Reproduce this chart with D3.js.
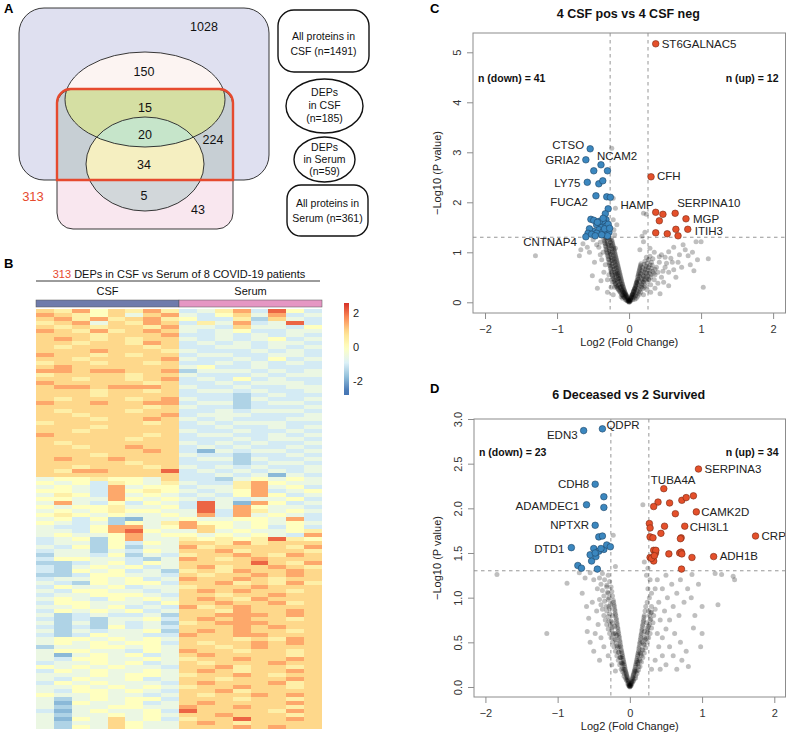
<!DOCTYPE html>
<html><head><meta charset="utf-8">
<script src="https://cdn.jsdelivr.net/npm/d3@7"></script>
<style>body{margin:0;background:#fff} text{font-family:"Liberation Sans",Arial,Helvetica,sans-serif}</style>
</head><body><svg id="chart" width="786" height="733"></svg>
<script>
// ---------------- DATA ----------------
const vennCounts = {onlyCSF:1028, csfDEP:150, csfDEPinOverlap:15, bothDEP:20, overlapOnly:224, serumDEPinOverlap:34, serumDEPonly:5, onlySerum:43, total313:313};
const vennLegend = [["All proteins in","CSF (n=1491)"],["DEPs","in CSF","(n=185)"],["DEPs","in Serum","(n=59)"],["All proteins in","Serum (n=361)"]];

// Heatmap: 16 samples (8 CSF, 8 Serum); each string is a row band, digits index heatLevels
const heatGroups = ["CSF","Serum"];
const heatLevels = [-2.3,-1.8,-1.4,-1.0,-0.55,0,0.45,0.95,1.45,2.1];
const heatRows = [
"76857686 34683953","87657478 43574834","78686786 53362743","67847687 36483493","76767768 44374435","87686787 43453344",
"77767778 33434343","78767677 43434534","77677687 34343443","76777767 33443434","77787776 43334343","87767677 34433443",
"77677778 43343534","67767767 33434343","78777777 45334333","88788778 24443434","67777677 43334344","77677678 34353433",
"87777767 33434443","78878887 43343344","77767767 34434334","77767777 33323433","76777678 43324334","87787788 34423443",
"77777767 43323334","76777677 33434443","77677778 34443334","77767787 43433344","67777767 34344433","77767777 33433434",
"77677777 43343343","87777767 34433434","77777677 33343443","76777777 43434334","77677877 34343343","77777787 31434434",
"77767777 43323343","78778777 34424334","77777677 33323443","77677767 43434334","76887779 34343434","77777777 33434143",
"45565547 33245454","54536546 43368544","45438455 34468453","55438565 43458345","46538454 34358534","55448545 43434453",
"48435354 39418534","54556445 39485443","45456554 49386454","56545445 48384543","45352144 54455483","54342546 85545454",
"43358845 87545353","44358954 47454456","45445845 54545438","34525844 65656965",
"34425354 77686777","43525244 86777768","34424354 77867776","24435243 67787687","35544324 87678777","22345354 77779768",
"32454534 78677876","32545342 67687787","22355443 76778787","34454534 87787677","43254553 77867686","35445344 67778777",
"43554434 78787767","34455543 77677877","45435454 78768777","35544435 77877867","44545343 86787777","35454534 77687787",
"42343342 77888787","32324453 78787767","42424342 67888777","32325343 77787877","42434452 78787767","32354433 87788777",
"45545454 77767687","45454553 76778787","24455454 77678777","45544354 87767767","41454534 78777767","43554454 67787787",
"34454534 76777877","54545443 77867767","35454454 78767787","44454554 67787677","43544534 77677787","35454443 78777867",
"44545454 67787767","43554543 77867777","54454434 76778787","42454553 77767767","41544534 78777787","42445544 87787767",
"31454453 97777687","42445454 77877767","41547453 67797787","42447544 78767777","42547544 77787877"
];
const heatLegendTicks = [2,0,-2];

// Volcano C: 4 CSF pos vs 4 CSF neg
const cTicksX = [-2,-1,0,1,2];
const cTicksY = [0,1,2,3,4,5];
const cDown = [[-0.54,3.07,"CTSO"],[-0.6,2.85,"GRIA2"],[-0.39,2.75,"NCAM2"],[-0.49,2.63],[-0.3,2.63],[-0.58,2.4,"LY75"],[-0.42,2.37],[-0.365,2.43],
[-0.46,2.13,"FUCA2"],[-0.31,2.11],[-0.26,2.1],[-0.29,1.87],[-0.33,1.77],[-0.53,1.66],[-0.49,1.64],[-0.32,1.65],[-0.45,1.55],[-0.4,1.58],[-0.35,1.6],
[-0.38,1.5],[-0.32,1.52],[-0.42,1.45],[-0.36,1.42],[-0.3,1.45],[-0.28,1.4],[-0.33,1.35],[-0.5,1.42],[-0.55,1.47],[-0.57,1.38],[-0.6,1.31,"CNTNAP4"],
[-0.45,1.38],[-0.3,1.33],[-0.38,1.35],[-0.41,1.62],[-0.29,1.56],[-0.34,1.47],[-0.44,1.6],[-0.52,1.36],[-0.27,1.48],[-0.36,1.68],[-0.47,1.33]];
const cUp = [[0.37,5.17,"ST6GALNAC5"],[0.305,2.51,"CFH"],[0.37,1.8,"HAMP"],[0.47,1.76],[0.64,1.78,"SERPINA10"],[0.42,1.63],[0.79,1.67,"MGP"],
[0.37,1.39],[0.53,1.37],[0.65,1.46],[0.815,1.46,"ITIH3"],[0.68,1.33]];
const cGrey = [[0,0.02],[0.01,0.04],[-0.01,0.05],[0.02,0.07],[-0.02,0.08],[0.03,0.1],[-0.03,0.11],[0.04,0.13],[-0.04,0.14],[0.05,0.16],[-0.05,0.17],[0.06,0.2],[-0.06,0.21],[0.07,0.24],[-0.07,0.25],[0.08,0.28],[-0.08,0.3],[0.09,0.33],[-0.09,0.35],[0.1,0.38],[-0.1,0.4],[0.11,0.43],[-0.11,0.46],[0.12,0.5],[-0.12,0.52],[0.13,0.56],[-0.13,0.58],[0.14,0.62],[-0.14,0.64],[0.15,0.68],[-0.15,0.7],[0.16,0.74],[-0.16,0.76],[-0.17,0.82],[-0.18,0.88],[-0.19,0.94],[-0.2,1.0],[-0.21,1.06],[-0.22,1.12],[-0.23,1.18],[-0.24,1.24],[-0.25,1.28],
[-0.04,0.06],[-0.06,0.09],[-0.08,0.12],[-0.05,0.12],[-0.1,0.15],[-0.07,0.18],[-0.12,0.2],[-0.09,0.22],[-0.14,0.24],[-0.1,0.27],[-0.13,0.3],[-0.16,0.28],[-0.11,0.32],[-0.15,0.34],[-0.18,0.33],[-0.12,0.37],[-0.16,0.4],[-0.19,0.38],[-0.13,0.42],[-0.17,0.45],[-0.2,0.44],[-0.14,0.47],[-0.18,0.5],[-0.22,0.48],[-0.15,0.53],[-0.19,0.55],[-0.23,0.54],[-0.16,0.58],[-0.2,0.6],[-0.24,0.6],[-0.17,0.63],[-0.21,0.66],[-0.25,0.65],[-0.18,0.69],[-0.22,0.71],[-0.26,0.72],[-0.19,0.75],[-0.23,0.77],[-0.27,0.78],[-0.2,0.81],[-0.24,0.83],[-0.28,0.85],[-0.21,0.87],[-0.25,0.9],[-0.29,0.91],[-0.22,0.93],[-0.26,0.96],[-0.3,0.98],[-0.23,1.0],[-0.27,1.02],[-0.31,1.04],[-0.24,1.07],[-0.28,1.09],[-0.32,1.1],[-0.25,1.13],[-0.29,1.15],[-0.33,1.17],[-0.26,1.2],[-0.3,1.22],[-0.34,1.23],[-0.27,1.25],[-0.31,1.27],[-0.35,1.26],[-0.29,1.29],[-0.33,1.29],
[-0.03,0.03],[-0.05,0.05],[-0.07,0.1],[-0.09,0.14],[-0.11,0.18],[-0.13,0.22],[-0.15,0.26],[-0.17,0.31],[-0.19,0.36],[-0.21,0.41],[-0.22,0.46],[-0.23,0.51],[-0.24,0.56],[-0.25,0.62],[-0.26,0.68],[-0.27,0.74],[-0.28,0.8],[-0.29,0.87],[-0.3,0.94],[-0.31,1.0],[-0.32,1.06],[-0.33,1.13],[-0.34,1.19],[-0.1,0.24],[-0.12,0.29],[-0.14,0.35],[-0.16,0.43],[-0.18,0.57],[-0.2,0.67],[-0.22,0.79],[-0.24,0.88],[-0.26,0.99],[-0.28,1.13],[-0.3,1.18],[-0.08,0.2],[-0.06,0.15],[-0.09,0.08],[-0.11,0.11],[-0.2,0.3],[-0.23,0.4],[0,0],[0.01,0.01],[-0.01,0.02],[0.02,0.03],[-0.02,0.03],
[0,0.01],[0.005,0.03],[-0.005,0.04],[0.015,0.06],[-0.015,0.07],[0.025,0.09],[-0.025,0.1],[0.035,0.12],[-0.035,0.13],[0.045,0.15],[-0.045,0.16],[0.055,0.18],[-0.055,0.19],[0.065,0.22],[-0.065,0.23],[0.075,0.26],[-0.075,0.27],[0.085,0.3],[-0.085,0.32],[0.095,0.35],[-0.095,0.37],[-0.105,0.43],[-0.115,0.49],[-0.125,0.55],[-0.135,0.61],[-0.145,0.67],[-0.155,0.73],[-0.165,0.79],[-0.175,0.85],[-0.185,0.91],[-0.195,0.97],[-0.205,1.03],[-0.215,1.09],[-0.225,1.15],[-0.235,1.21],[0.105,0.4],[0.115,0.45],[0.125,0.53],[0.135,0.59],[0.145,0.65],[0.155,0.71],[0.165,0.77],[-0.19,0.6],[-0.21,0.72],[-0.23,0.84],[-0.25,0.95],[-0.27,1.06],[0.18,0.45],[0.2,0.52],[0.22,0.6],[0.24,0.68],[-0.15,0.48],[-0.17,0.53],
[-0.25,0.3],[-0.3,0.45],[-0.35,0.6],[-0.33,0.75],[-0.38,0.85],[-0.4,0.95],[-0.36,1.0],[-0.42,1.1],[-0.4,1.2],[-0.45,1.15],[-0.5,1.25],[-0.44,0.28],[-0.51,0.53],[-0.39,0.43],[-0.67,1.05],[-0.64,1.17],[-0.69,0.93],[-1.3,0.93],[-0.55,1.0],[-0.3,0.2],[-0.22,0.15],[-0.48,0.8],[-0.58,1.1],[-0.28,0.55],
[0.05,0.1],[0.07,0.15],[0.04,0.15],[0.09,0.19],[0.06,0.22],[0.11,0.24],[0.08,0.27],[0.13,0.28],[0.1,0.32],[0.15,0.33],[0.12,0.36],[0.17,0.37],[0.11,0.4],[0.14,0.42],[0.19,0.41],[0.13,0.46],[0.17,0.48],[0.21,0.46],[0.15,0.52],[0.19,0.54],[0.23,0.52],[0.16,0.57],[0.2,0.6],[0.24,0.58],[0.18,0.63],[0.22,0.66],[0.26,0.64],[0.19,0.69],[0.23,0.72],[0.27,0.7],[0.21,0.76],[0.25,0.78],[0.29,0.75],[0.22,0.82],[0.27,0.85],[0.31,0.8],[0.24,0.9],[0.29,0.92],[0.33,0.87],
[0.03,0.05],[0.05,0.05],[0.07,0.1],[0.09,0.13],[0.11,0.17],[0.13,0.21],[0.15,0.25],[0.17,0.3],[0.18,0.35],[0.2,0.4],[0.22,0.44],[0.24,0.49],[0.26,0.53],[0.28,0.58],[0.29,0.63],[0.31,0.68],[0.32,0.74],[0.1,0.08],[0.12,0.12],[0.16,0.2],[0.19,0.27],[0.22,0.33],[0.25,0.4],[0.27,0.46],[0.3,0.5],[0.34,0.58],[0.36,0.66],[0.08,0.06],[0.14,0.16],[0.21,0.3],
[0.2,0.15],[0.25,0.25],[0.3,0.35],[0.35,0.45],[0.3,0.55],[0.4,0.6],[0.45,0.5],[0.38,0.7],[0.42,0.8],[0.5,0.7],[0.55,0.6],[0.5,0.9],[0.35,1.0],[0.45,0.95],[0.55,1.01],[0.42,0.91],[0.6,0.8],[0.65,0.5],[0.55,0.33],[0.43,0.17],[0.73,0.7],[0.82,0.93],[0.9,0.63],[1.03,0.3],[1.1,0.87],[0.93,1.21],[1.0,1.21],[0.2,1.21],[0.15,1.05],[0.29,1.08],[0.7,0.95],[0.62,1.1],[0.75,1.15],[0.85,0.75],[0.3,0.2],[0.36,0.28],[0.48,0.4],[0.62,0.65],[0.33,0.62],[0.4,0.38],[0.28,0.45],[0.36,0.55],[0.47,0.62],[0.52,0.78],[0.58,0.88],[0.68,0.8],[0.78,1.05],[0.95,0.85],[0.88,1.0],
[0.2,1.78],[0.24,1.76],[-0.24,3.08],[-0.22,1.65],[-0.17,1.55],[-0.19,1.08],[-0.22,2.08],[-0.19,1.88],[0.22,1.4],[-0.2,1.35],[0.18,1.32],[-0.21,1.45]];

// Volcano D: 6 Deceased vs 2 Survived
const dTicksX = [-2,-1,0,1,2];
const dTicksY = [0,0.5,1,1.5,2,2.5,3];
const dDown = [[-0.38,2.89,"QDPR"],[-0.64,2.87,"EDN3"],[-0.48,2.27,"CDH8"],[-0.36,2.13],[-0.6,2.04,"ADAMDEC1"],[-0.36,2.01],[-0.48,1.81,"NPTXR"],
[-0.43,1.68],[-0.38,1.69],[-0.81,1.56,"DTD1"],[-0.5,1.55],[-0.43,1.52],[-0.36,1.54],[-0.32,1.59],[-0.27,1.57],[-0.53,1.41],[-0.47,1.46],[-0.72,1.36],
[-0.67,1.33],[-0.45,1.32],[-0.55,1.48],[-0.4,1.55],[-0.48,1.5]];
const dUp = [[0.95,2.44,"SERPINA3"],[0.47,2.22,"TUBA4A"],[0.39,2.07],[0.33,2.02],[0.55,2.06],[0.72,2.09],[0.78,2.12],[0.88,2.14],[0.63,1.94],
[0.92,1.96,"CAMK2D"],[0.27,1.83],[0.28,1.78],[0.48,1.8],[0.76,1.8,"CHI3L1"],[0.43,1.72],[0.28,1.68],[0.32,1.67],[0.71,1.67],[1.74,1.69,"CRP"],
[0.33,1.53],[0.355,1.5],[0.54,1.49],[0.69,1.5],[0.71,1.51],[0.86,1.45],[1.16,1.46,"ADH1B"],[0.28,1.45],[0.33,1.41],[0.715,1.32],
[0.3,1.44],[0.72,1.49],[0.36,1.53],[0.7,1.66],[0.34,1.47]];
const dGrey = [[0,0.01],[0.01,0.03],[-0.01,0.03],[0.02,0.05],[-0.02,0.06],[0.03,0.08],[-0.03,0.09],[0.04,0.11],[-0.04,0.12],[0.05,0.14],[-0.05,0.15],[0.06,0.17],[-0.06,0.18],[0.07,0.2],[-0.07,0.22],[0.08,0.24],[-0.08,0.26],[0.09,0.28],[-0.09,0.3],[0.1,0.32],[-0.1,0.34],[0.11,0.36],[-0.11,0.38],[0.12,0.4],[-0.12,0.42],[0.13,0.45],[-0.13,0.47],[0.14,0.5],[-0.14,0.52],[0.15,0.55],[-0.15,0.57],[0.16,0.6],[-0.16,0.62],[0.17,0.65],[-0.17,0.67],[0.18,0.7],[-0.18,0.72],[0.19,0.75],[-0.19,0.77],[0.2,0.8],[-0.2,0.82],[0.21,0.85],[-0.21,0.87],[0.22,0.9],[-0.22,0.92],[-0.23,0.97],[-0.24,1.02],[-0.25,1.07],[-0.26,1.12],
[0,0],[0.01,0.01],[-0.01,0.01],[0.02,0.02],[-0.02,0.02],[-0.03,0.04],[0.03,0.04],[-0.04,0.07],[0.04,0.06],[-0.06,0.1],[0.06,0.09],[-0.08,0.15],[0.08,0.13],[-0.1,0.21],[0.1,0.18],[-0.12,0.27],[0.12,0.23],[-0.14,0.33],[0.14,0.29],[-0.16,0.39],[0.16,0.35],[-0.18,0.46],[0.18,0.41],[-0.2,0.53],[0.2,0.47],[-0.22,0.6],[0.22,0.54],[-0.24,0.67],[0.24,0.61],[-0.26,0.74],[0.26,0.68],[-0.28,0.82],[0.28,0.75],[-0.29,0.9],[0.29,0.83],[-0.3,0.98],[0.3,0.9],[-0.31,1.06],[-0.32,1.14],[-0.08,0.2],[-0.1,0.26],[-0.12,0.33],[-0.15,0.45],[-0.18,0.58],[-0.21,0.68],[-0.24,0.8],[-0.27,0.93],[-0.29,1.0],[0.08,0.18],[0.11,0.28],[0.14,0.38],[0.17,0.5],[0.2,0.62],[0.23,0.72],[0.26,0.85],
[0,0.005],[0.005,0.02],[-0.005,0.02],[0.015,0.04],[-0.015,0.045],[0.025,0.065],[-0.025,0.075],[0.035,0.095],[-0.035,0.105],[0.045,0.125],[-0.045,0.135],[0.055,0.155],[-0.055,0.165],[0.065,0.185],[-0.065,0.2],[0.075,0.22],[-0.075,0.24],[0.085,0.26],[-0.085,0.28],[0.095,0.3],[-0.095,0.32],[0.105,0.34],[-0.105,0.36],[0.115,0.38],[-0.115,0.4],[0.125,0.43],[-0.125,0.45],[0.135,0.48],[-0.135,0.5],[0.145,0.53],[-0.145,0.55],[0.155,0.58],[-0.155,0.6],[0.165,0.63],[-0.165,0.65],[0.175,0.68],[-0.175,0.7],[-0.185,0.75],[-0.195,0.8],[-0.205,0.85],[-0.215,0.9],[-0.225,0.95],[0.185,0.73],[0.195,0.78],[-0.2,0.6],[0.2,0.55],[-0.24,0.72],[0.24,0.66],[-0.28,0.88],[0.27,0.8],
[-0.05,0.08],[-0.08,0.12],[-0.1,0.17],[-0.12,0.2],[-0.14,0.25],[-0.11,0.27],[-0.16,0.3],[-0.13,0.33],[-0.18,0.35],[-0.15,0.39],[-0.2,0.4],[-0.17,0.44],[-0.22,0.45],[-0.19,0.49],[-0.24,0.5],[-0.21,0.54],[-0.26,0.55],[-0.23,0.59],[-0.28,0.6],[-0.25,0.64],[-0.3,0.65],[-0.27,0.69],[-0.32,0.7],[-0.29,0.74],[-0.34,0.75],[-0.3,0.79],[-0.36,0.8],[-0.32,0.85],[-0.38,0.87],[-0.33,0.9],[-0.4,0.92],[-0.35,0.96],[-0.42,0.98],[-0.36,1.02],[-0.3,1.05],[-0.38,1.08],[-0.32,1.12],[-0.4,1.15],[-0.28,1.18],[-0.35,1.2],[-0.42,1.22],[-0.3,1.25],[-0.38,1.27],[-0.45,1.1],[-0.46,0.85],[-0.44,0.7],[-0.4,0.55],[-0.36,0.45],[-0.3,0.35],[-0.25,0.25],[-0.2,0.18],
[-1.84,1.26],[-1.15,0.6],[-0.87,1.16],[-0.66,1.05],[-0.57,0.77],[-0.59,0.62],[-0.52,0.95],[-0.5,1.2],[-0.55,1.28],[-0.62,1.22],[-0.48,0.6],[-0.5,0.4],[-0.42,0.3],[-0.55,0.5],[-0.6,0.9],[-0.7,1.28],
[0.05,0.07],[0.08,0.1],[0.1,0.15],[0.12,0.19],[0.14,0.23],[0.11,0.26],[0.16,0.28],[0.13,0.31],[0.18,0.33],[0.15,0.37],[0.2,0.38],[0.17,0.42],[0.22,0.44],[0.19,0.48],[0.24,0.5],[0.21,0.53],[0.26,0.55],[0.23,0.59],[0.28,0.6],[0.25,0.64],[0.3,0.66],[0.27,0.7],[0.32,0.72],[0.29,0.76],[0.33,0.8],[0.3,0.84],[0.35,0.87],[0.24,0.95],[0.27,1.0],[0.3,1.05],[0.25,1.1],[0.28,1.2],[0.23,1.25],
[0.35,0.3],[0.4,0.45],[0.45,0.55],[0.38,0.6],[0.5,0.65],[0.42,0.75],[0.55,0.75],[0.48,0.85],[0.6,0.9],[0.4,0.95],[0.52,1.0],[0.65,1.05],[0.45,1.1],[0.58,1.15],[0.7,1.2],[0.38,1.2],[0.5,1.25],[0.62,0.6],[0.68,0.8],[0.75,0.95],[0.8,1.1],[0.55,0.45],[0.6,0.35],[0.7,0.5],[0.81,0.23],[0.88,0.66],[1.0,0.6],[0.98,0.45],[1.0,0.9],[1.22,0.92],[1.43,1.24],[1.18,1.27],[1.27,1.26],[0.86,1.26],[0.78,0.4],[0.72,0.3],[0.9,0.8],[0.65,0.2],[0.5,0.25],[0.42,0.2],[0.3,0.2],[0.85,1.0],[0.95,1.15],[0.35,1.1],[0.45,0.35],[1.45,1.2],
[0.18,2.04],[-0.23,1.7],[0.2,1.4],[-0.2,1.35],[0.25,1.33]];

const fcCut = 0.263, pCut = 1.301;

// ---------------- DRAW ----------------
const svg = d3.select("#chart");
const FONT = '"Liberation Sans",Arial,sans-serif';
const RED = "#e64a2e";
const defs = svg.append("defs");

[["A",4,13],["B",4,268],["C",430,13],["D",430,393]].forEach(([t,x,y])=>
  svg.append("text").attr("x",x).attr("y",y).attr("font-size",13).attr("font-weight","bold").attr("fill","#000").text(t));

// ===== Panel A: Venn =====
(function(){
  const blue = {x:19,y:8,w:250,h:172,r:25};
  const pink = {x:57,y:89,w:176,h:140,r:16};
  const csfE = {cx:145,cy:99.5,rx:80,ry:47.5};
  const serE = {cx:145,cy:164,rx:59,ry:47};
  defs.append("clipPath").attr("id","clipBlue").append("rect").attr("x",blue.x).attr("y",blue.y).attr("width",blue.w).attr("height",blue.h).attr("rx",blue.r);
  defs.append("clipPath").attr("id","clipPink").append("rect").attr("x",pink.x).attr("y",pink.y).attr("width",pink.w).attr("height",pink.h).attr("rx",pink.r);
  defs.append("clipPath").attr("id","clipCsf").append("ellipse").attr("cx",csfE.cx).attr("cy",csfE.cy).attr("rx",csfE.rx).attr("ry",csfE.ry);
  const g = svg.append("g");
  const rr = (o,fill,clip)=>{const e=g.append("rect").attr("x",o.x).attr("y",o.y).attr("width",o.w).attr("height",o.h).attr("rx",o.r).attr("fill",fill); if(clip) e.attr("clip-path",`url(#${clip})`); return e;};
  const el = (o,fill,clip)=>{const e=g.append("ellipse").attr("cx",o.cx).attr("cy",o.cy).attr("rx",o.rx).attr("ry",o.ry).attr("fill",fill); if(clip) e.attr("clip-path",`url(#${clip})`); return e;};
  rr(blue,"#dfe0f0");
  rr(pink,"#f9e7ef");
  rr(pink,"#c7cfd4","clipBlue");
  el(csfE,"#fcf4f2");
  el(csfE,"#d5dfa3","clipPink");
  el(serE,"#d2d7da");
  el(serE,"#f5efc1","clipBlue");
  el(serE,"#c6e5ca","clipCsf");
  rr(blue,"none").attr("stroke","#222").attr("stroke-width",0.9);
  rr(pink,"none").attr("stroke","#222").attr("stroke-width",0.9);
  el(csfE,"none").attr("stroke","#222").attr("stroke-width",0.9);
  el(serE,"none").attr("stroke","#222").attr("stroke-width",0.9);
  const r = 14;
  g.append("path").attr("d",`M${pink.x},${blue.y+blue.h} L${pink.x},${pink.y+r} A${r},${r} 0 0 1 ${pink.x+r},${pink.y} L${pink.x+pink.w-r},${pink.y} A${r},${r} 0 0 1 ${pink.x+pink.w},${pink.y+r} L${pink.x+pink.w},${blue.y+blue.h} Z`)
    .attr("fill","none").attr("stroke",RED).attr("stroke-width",2.4);
  const nums = [[vennCounts.onlyCSF,204,27],[vennCounts.csfDEP,144,72],[vennCounts.csfDEPinOverlap,145,108],[vennCounts.bothDEP,145,135],
    [vennCounts.overlapOnly,213,140],[vennCounts.serumDEPinOverlap,144,165],[vennCounts.serumDEPonly,144,196],[vennCounts.onlySerum,198,210]];
  nums.forEach(([t,x,y])=>g.append("text").attr("x",x).attr("y",y).attr("dy","0.35em").attr("text-anchor","middle").attr("font-size",12.5).attr("fill","#111").text(t));
  g.append("text").attr("x",33).attr("y",196).attr("dy","0.35em").attr("text-anchor","middle").attr("font-size",13).attr("fill",RED).text(vennCounts.total313);
  const lg = svg.append("g").attr("fill","none").attr("stroke","#111").attr("stroke-width",1.4);
  lg.append("rect").attr("x",278).attr("y",10).attr("width",91).attr("height",62).attr("rx",16);
  lg.append("ellipse").attr("cx",324.5).attr("cy",106).attr("rx",38.5).attr("ry",27);
  lg.append("ellipse").attr("cx",324.5).attr("cy",159.5).attr("rx",30.5).attr("ry",22.5);
  lg.append("rect").attr("x",287).attr("y",185).attr("width",81).attr("height",51).attr("rx",14);
  const lpos = [[323.5,[36,51]],[324.5,[92,105,118]],[324.5,[147,159,171]],[327.5,[203,218]]];
  vennLegend.forEach((lines,i)=>lines.forEach((t,j)=>svg.append("text").attr("x",lpos[i][0]).attr("y",lpos[i][1][j]).attr("dy","0.35em")
    .attr("text-anchor","middle").attr("font-size",10.5).style("fill","#111").text(t)));
})();

// ===== Panel B: Heatmap =====
(function(){
  const left = 36, right = 322, top = 309, bottom = 729;
  const rows = heatRows.map(s=>s.replace(/ /g,"").split("").map(c=>heatLevels[+c]));
  const nCol = rows[0].length;
  const x = d3.scaleBand().domain(d3.range(nCol)).range([left,right]);
  const y = d3.scaleBand().domain(d3.range(rows.length)).range([top,bottom]);
  const color = d3.scaleLinear().domain([-2.6,-1.73,-0.87,0,0.87,1.73,2.6])
    .range(["#4575b4","#91bfdb","#e0f3f8","#ffffbf","#fee090","#fc8d59","#d73027"]).clamp(true);
  const g = svg.append("g");
  rows.forEach((r,i)=>r.forEach((v,j)=>g.append("rect").attr("x",x(j)).attr("y",y(i)).attr("width",x.bandwidth()+0.3).attr("height",y.bandwidth()+0.3)
    .attr("fill",color(v)).attr("shape-rendering","crispEdges")));
  const t = svg.append("text").attr("x",179).attr("y",278).attr("text-anchor","middle").attr("font-size",11).attr("fill","#111");
  t.append("tspan").attr("fill",RED).text("313");
  t.append("tspan").attr("fill","#111").text(" DEPs in CSF vs Serum of 8 COVID-19 patients");
  svg.append("line").attr("x1",36).attr("x2",320).attr("y1",281).attr("y2",281).attr("stroke","#222").attr("stroke-width",0.9);
  const half = nCol/2;
  const groupColors = ["#6f7bab","#e596c3"];
  heatGroups.forEach((gname,k)=>{
    const x0 = x(k*half), x1 = x(k*half+half-1)+x.bandwidth();
    svg.append("rect").attr("x",x0).attr("y",300).attr("width",x1-x0).attr("height",7).attr("fill",groupColors[k]).attr("stroke","#555").attr("stroke-width",0.5);
    svg.append("text").attr("x",(x0+x1)/2).attr("y",291).attr("dy","0.35em").attr("text-anchor","middle").attr("font-size",11).attr("fill","#111").text(gname);
  });
  const ly = d3.scaleLinear().domain([2.6,-2.8]).range([303,395]);
  const grad = defs.append("linearGradient").attr("id","heatGrad").attr("x1",0).attr("x2",0).attr("y1",0).attr("y2",1);
  d3.range(0,1.0001,0.05).forEach(f=>grad.append("stop").attr("offset",f).attr("stop-color",color(ly.invert(303+92*f))));
  svg.append("rect").attr("x",344).attr("y",303).attr("width",5).attr("height",92).attr("fill","url(#heatGrad)");
  heatLegendTicks.forEach(v=>svg.append("text").attr("x",353).attr("y",ly(v)).attr("dy","0.35em").attr("font-size",11).attr("fill","#222").text(v));
})();

// ===== Volcano panels =====
function volcano(cfg){
  const g = svg.append("g");
  const x = d3.scaleLinear().domain(cfg.xdom).range([cfg.left,cfg.right]);
  const y = d3.scaleLinear().domain(cfg.ydom).range([cfg.bottom,cfg.top]);
  g.append("text").attr("x",(cfg.left+cfg.right)/2-1).attr("y",cfg.titleY).attr("text-anchor","middle").attr("font-size",12.5).attr("font-weight","bold").attr("fill","#111").text(cfg.title);
  const dash = {"stroke":"#8a8a8a","stroke-dasharray":"3.5,3.5","stroke-width":0.9};
  const dl = (x1,x2,y1,y2)=>{const l=g.append("line").attr("x1",x1).attr("x2",x2).attr("y1",y1).attr("y2",y2); Object.entries(dash).forEach(([k,vv])=>l.attr(k,vv));};
  [-fcCut,fcCut].forEach(v=>dl(x(v),x(v),cfg.top,cfg.bottom));
  dl(cfg.left,cfg.right,y(pCut),y(pCut));
  g.append("g").selectAll("circle").data(cfg.grey).join("circle").attr("cx",d=>x(d[0])).attr("cy",d=>y(d[1])).attr("r",2.5)
    .attr("fill","#000").attr("fill-opacity",0.25);
  const sig = (data,fill,stroke)=>g.append("g").selectAll("circle").data(data).join("circle").attr("cx",d=>x(d[0])).attr("cy",d=>y(d[1])).attr("r",3.3)
    .attr("fill",fill).attr("stroke",stroke).attr("stroke-width",0.6);
  sig(cfg.down,"#3b87bf","#1f4466");
  sig(cfg.up,"#e4502b","#7a2a14");
  [...cfg.down,...cfg.up].filter(d=>d[2]).forEach(d=>{
    const [dx,dy,anc] = cfg.labelPos[d[2]];
    g.append("text").attr("x",x(d[0])+dx).attr("y",y(d[1])+dy).attr("dy","0.35em").attr("text-anchor",anc).attr("font-size",11.5).attr("fill","#222").text(d[2]);
  });
  g.append("text").attr("x",cfg.left+5).attr("y",cfg.countY).attr("dy","0.35em").attr("font-size",10.5).attr("font-weight","bold").attr("fill","#111").text(`n (down) = ${cfg.down.length}`);
  g.append("text").attr("x",cfg.right-7).attr("y",cfg.countY).attr("dy","0.35em").attr("text-anchor","end").attr("font-size",10.5).attr("font-weight","bold").attr("fill","#111").text(`n (up) = ${cfg.up.length}`);
  g.append("rect").attr("x",cfg.left).attr("y",cfg.top).attr("width",cfg.right-cfg.left).attr("height",cfg.bottom-cfg.top).attr("fill","none").attr("stroke","#8c8c8c").attr("stroke-width",1);
  const fmtX = d=> d<0 ? "\u2212"+Math.abs(d) : String(d);
  const xa = g.append("g").attr("transform",`translate(0,${cfg.bottom})`).call(d3.axisBottom(x).tickValues(cfg.xticks).tickSize(6).tickFormat(fmtX));
  xa.select(".domain").remove();
  xa.selectAll("line").attr("stroke","#8c8c8c");
  xa.selectAll("text").attr("dy",null).attr("y",20).attr("font-size",11).attr("font-family",FONT).attr("fill","#333");
  const ya = g.append("g").attr("transform",`translate(${cfg.left},0)`).call(d3.axisLeft(y).tickValues(cfg.yticks).tickSize(6).tickFormat(cfg.yfmt));
  ya.select(".domain").remove();
  ya.selectAll("line").attr("stroke","#8c8c8c");
  ya.selectAll("text").attr("x",null).attr("dy",null).attr("text-anchor","middle").attr("transform","translate(-12,0) rotate(-90)")
    .attr("font-size",11).attr("font-family",FONT).attr("fill","#333");
  g.append("text").attr("transform",`translate(441,${(cfg.top+cfg.bottom)/2}) rotate(-90)`).attr("text-anchor","middle").attr("font-size",11).attr("fill","#222").text("\u2212Log10 (P value)");
  g.append("text").attr("x",(cfg.left+cfg.right)/2).attr("y",cfg.bottom+33).attr("text-anchor","middle").attr("font-size",11).attr("fill","#222").text("Log2 (Fold Change)");
}

volcano({title:"4 CSF pos vs 4 CSF neg", titleY:18, left:473, right:785.5, top:33, bottom:313,
  xdom:[-2.167,2.172], ydom:[-0.214,5.386], xticks:cTicksX, yticks:cTicksY, yfmt:d3.format("d"), countY:78,
  grey:cGrey, down:cDown, up:cUp,
  labelPos:{CTSO:[-6,-4,"end"],GRIA2:[-6,0,"end"],NCAM2:[-4,-9,"start"],LY75:[-7,1,"end"],FUCA2:[-8,6,"end"],CNTNAP4:[-9,5,"end"],
    ST6GALNAC5:[6,0,"start"],CFH:[6,-1,"start"],HAMP:[-2,-7,"end"],SERPINA10:[2,-10,"start"],MGP:[7,0,"start"],ITIH3:[7,2,"start"]}});

volcano({title:"6 Deceased vs 2 Survived", titleY:399, left:474, right:785.5, top:419, bottom:697,
  xdom:[-2.158,2.155], ydom:[-0.112,3.0], xticks:dTicksX, yticks:dTicksY, yfmt:d3.format(".1f"), countY:452,
  grey:dGrey, down:dDown, up:dUp,
  labelPos:{QDPR:[4,-4,"start"],EDN3:[-6,4,"end"],CDH8:[-6,0,"end"],ADAMDEC1:[-7,1,"end"],NPTXR:[-6,0,"end"],DTD1:[-7,1,"end"],
    SERPINA3:[6,0,"start"],TUBA4A:[-13,-9,"start"],CAMK2D:[5,0,"start"],CHI3L1:[5,1,"start"],CRP:[6,0,"start"],ADH1B:[6,-1,"start"]}});
</script></body></html>
